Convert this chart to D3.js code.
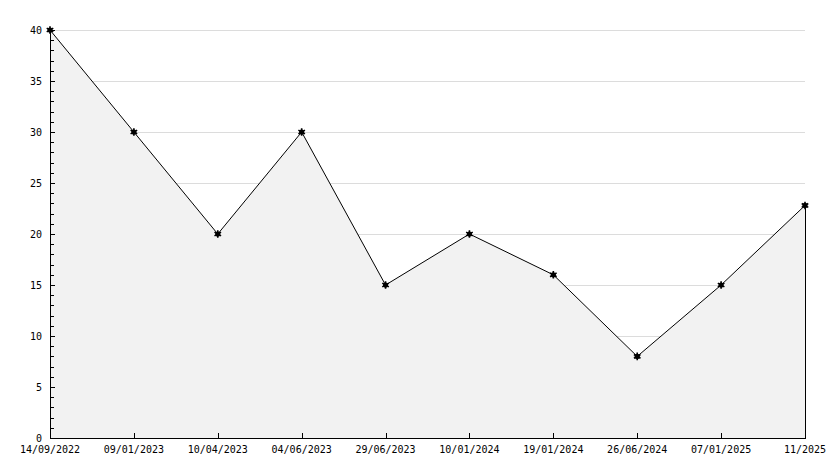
<!DOCTYPE html>
<html>
<head>
<meta charset="utf-8">
<script src="https://cdn.jsdelivr.net/npm/d3@7/dist/d3.min.js"></script>
<style>
  body { margin: 0; background: #fff; }
  svg { display: block; }
  text { font-family: "DejaVu Sans Mono", monospace; font-size: 10px; fill: #000; }
</style>
</head>
<body>
<div id="chart"></div>
<script>
// data
const dates  = ['14/09/2022', '09/01/2023', '10/04/2023', '04/06/2023', '29/06/2023',
                '10/01/2024', '19/01/2024', '26/06/2024', '07/01/2025', '11/2025'];
const values = [40, 30, 20, 30, 15, 20, 16, 8, 15, 22.8];
const yMajor = [0, 5, 10, 15, 20, 25, 30, 35, 40];

const W = 834, H = 468;
const plotL = 50, plotR = 805, plotT = 30, plotB = 438;

const svg = d3.select('#chart').append('svg')
    .attr('width', W).attr('height', H);

const x = d3.scalePoint().domain(d3.range(dates.length)).range([plotL, plotR]);
const y = d3.scaleLinear().domain([0, 40]).range([plotB, plotT]);

// grid lines (area is painted over them)
svg.append('g').selectAll('line').data(yMajor.filter(v => v > 0)).join('line')
    .attr('x1', plotL).attr('x2', plotR)
    .attr('y1', d => y(d) + 0.5).attr('y2', d => y(d) + 0.5)
    .attr('stroke', '#dcdcdc').attr('stroke-width', 1);

const pts = values.map((v, i) => [x(i), y(v)]);

// filled area
const area = d3.area().x(d => d[0]).y0(plotB).y1(d => d[1]);
svg.append('path').datum(pts)
    .attr('d', area)
    .attr('fill', '#f2f2f2');

// line
svg.append('path').datum(pts)
    .attr('d', d3.line())
    .attr('fill', 'none').attr('stroke', '#000').attr('stroke-width', 1);

// right edge of the area
svg.append('line')
    .attr('x1', plotR + 0.5).attr('x2', plotR + 0.5)
    .attr('y1', y(values[values.length - 1])).attr('y2', plotB)
    .attr('stroke', '#000');

// y axis
const ya = svg.append('g');
ya.append('line')
    .attr('x1', plotL + 0.5).attr('x2', plotL + 0.5)
    .attr('y1', plotT).attr('y2', plotB + 0.5)
    .attr('stroke', '#000');
ya.selectAll('line.minor').data(d3.range(0, 41)).join('line')
    .attr('class', 'minor')
    .attr('x1', plotL).attr('x2', d => plotL + (d % 5 === 0 ? 5 : 4))
    .attr('y1', d => Math.round(y(d)) + 0.5).attr('y2', d => Math.round(y(d)) + 0.5)
    .attr('stroke', '#000');
ya.selectAll('text').data(yMajor).join('text')
    .attr('x', plotL - 8).attr('y', d => y(d))
    .attr('dy', '0.35em')
    .attr('text-anchor', 'end')
    .text(d => d);

// x axis
const xa = svg.append('g');
xa.append('line')
    .attr('x1', plotL).attr('x2', plotR + 1)
    .attr('y1', plotB + 0.5).attr('y2', plotB + 0.5)
    .attr('stroke', '#000');
xa.selectAll('line.tick').data(d3.range(1, dates.length - 1)).join('line')
    .attr('class', 'tick')
    .attr('x1', d => Math.round(x(d)) + 0.5).attr('x2', d => Math.round(x(d)) + 0.5)
    .attr('y1', plotB - 5).attr('y2', plotB)
    .attr('stroke', '#000');
xa.selectAll('text').data(dates).join('text')
    .attr('x', (d, i) => x(i)).attr('y', plotB + 15)
    .attr('text-anchor', 'middle')
    .text(d => d);

// markers
const mk = svg.append('g').selectAll('g').data(pts).join('g')
    .attr('transform', d => `translate(${d[0]},${d[1]})`);
mk.append('circle').attr('r', 2.6).attr('fill', '#000');
mk.append('path')
    .attr('d', d3.symbol(d3.symbolAsterisk, 40))
    .attr('fill', 'none').attr('stroke', '#000').attr('stroke-width', 1.6);
</script>
</body>
</html>
